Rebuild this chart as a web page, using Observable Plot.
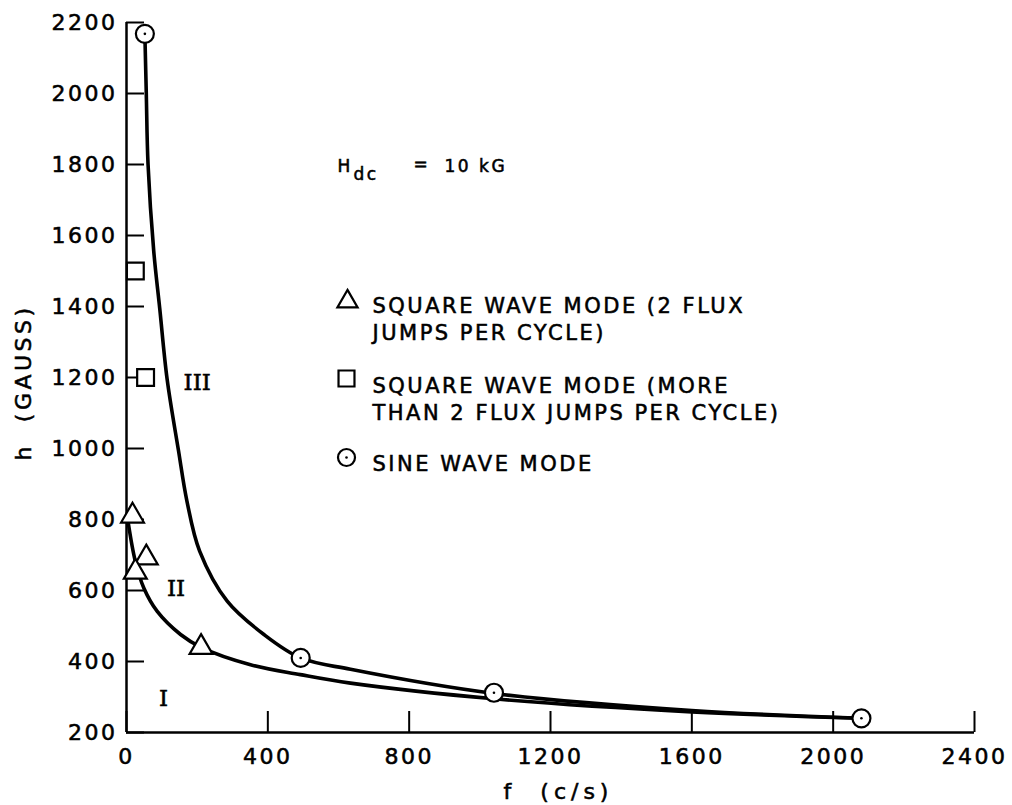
<!DOCTYPE html>
<html><head><meta charset="utf-8">
<script src="https://cdn.jsdelivr.net/npm/d3@7"></script>
<script src="https://cdn.jsdelivr.net/npm/@observablehq/plot@0.6"></script>
<style>
body{margin:0;background:#fff;}
svg text{letter-spacing:2.5px;stroke:#000;stroke-width:0.55px;}
</style></head><body><div id="chart"></div>
<script>
// ---- data ----
const xTicks = [0, 400, 800, 1200, 1600, 2000, 2400];
const yTicks = [200, 400, 600, 800, 1000, 1200, 1400, 1600, 1800, 2000, 2200];

// square wave mode, 2 flux jumps per cycle (triangles)
const triF = [17, 56, 25, 211];
const triH = [810, 692, 652, 440];
// square wave mode, more than 2 flux jumps per cycle (squares)
const sqF = [25, 54];
const sqH = [1500, 1200];
// sine wave mode (circles)
const sineF = [52, 493, 1040, 2080];
const sineH = [2168, 410, 312, 240];

// boundary II / III (upper curve)
const upperF = [52, 56, 61, 77, 94, 115, 147, 171, 207, 285, 389, 493, 634, 1040, 1600, 2080];
const upperH = [2168, 2000, 1800, 1557, 1395, 1195, 995, 852, 711, 570, 476, 410, 378, 310, 262, 240];
// boundary I / II (lower curve)
const lowerF = [5, 25, 49, 87, 153, 211, 351, 492, 634, 1040, 1600, 2080];
const lowerH = [790, 682, 607, 541, 476, 440, 391, 363, 339, 295, 258, 240];

// region labels
const regionNames = ["I", "II", "III"];
const regionF = [105, 140, 200];
const regionH = [296, 606, 1185];

const legendTexts = [
  "SQUARE WAVE MODE (2 FLUX\nJUMPS PER CYCLE)",
  "SQUARE WAVE MODE (MORE\nTHAN 2 FLUX JUMPS PER CYCLE)",
  "SINE WAVE MODE"
];
const xLabel = "f  (c/s)";
const yLabel = "h  (GAUSS)";
const hdcText = ["H", "dc", "=", "10 kG"];

// ---- build tables ----
const zip = (F, H) => F.map((f, i) => ({f, h: H[i]}));
const tri = zip(triF, triH);
const sq = zip(sqF, sqH);
const sine = zip(sineF, sineH);
const upper = zip(upperF, upperH);
const lower = zip(lowerF, lowerH);
const regions = regionNames.map((n, i) => ({n, f: regionF[i], h: regionH[i]}));

const FONT = "DejaVu Sans";
const dotStyle = {stroke: "black", fill: "white", strokeWidth: 2.2};

const plot = Plot.plot({
  width: 1012, height: 805,
  marginLeft: 126, marginRight: 38, marginTop: 22, marginBottom: 73,
  x: {domain: [0, 2400]},
  y: {domain: [200, 2200]},
  style: {fontFamily: FONT, background: "white", color: "black"},
  marks: [
    Plot.ruleX([0], {strokeWidth: 2.5}),
    Plot.ruleY([200], {strokeWidth: 2.5}),
    Plot.axisX(xTicks, {tickSize: -21, tickPadding: 37, strokeWidth: 2, fontSize: 22, label: null, tickFormat: d => String(d)}),
    Plot.axisY(yTicks, {tickSize: -18, tickPadding: 27, strokeWidth: 2, fontSize: 22, label: null, tickFormat: d => String(d)}),
    Plot.text([yLabel], {frameAnchor: "left", textAnchor: "middle", dx: -103, dy: 5, rotate: -90, fontSize: 22}),
    Plot.text([xLabel], {frameAnchor: "bottom", textAnchor: "middle", lineAnchor: "bottom", dx: 8, dy: 66, fontSize: 22}),
    Plot.line(upper, {x: "f", y: "h", curve: "catmull-rom", strokeWidth: 3.6}),
    Plot.line(lower, {x: "f", y: "h", curve: "catmull-rom", strokeWidth: 3.6}),
    Plot.dot(tri, {x: "f", y: "h", symbol: "triangle", r: 8.5, ...dotStyle}),
    Plot.dot(sq, {x: "f", y: "h", symbol: "square", r: 9.5, ...dotStyle}),
    Plot.dot(sine, {x: "f", y: "h", symbol: "circle", r: 9, ...dotStyle}),
    Plot.dot(sine, {x: "f", y: "h", r: 1.3, fill: "black"}),
    Plot.text(regions, {x: "f", y: "h", text: "n", fontSize: 23, fontFamily: "DejaVu Serif"}),
    // H_dc annotation
    Plot.text([hdcText[0]], {frameAnchor: "top-left", dx: 211, dy: 137, textAnchor: "start", fontSize: 17}),
    Plot.text([hdcText[1]], {frameAnchor: "top-left", dx: 227, dy: 145, textAnchor: "start", fontSize: 17}),
    Plot.text([hdcText[2]], {frameAnchor: "top-left", dx: 287, dy: 135, fontSize: 17}),
    Plot.text([hdcText[3]], {frameAnchor: "top-left", dx: 318, dy: 137, textAnchor: "start", fontSize: 17}),
    // legend
    Plot.dot([0], {frameAnchor: "top-left", dx: 221, dy: 279, symbol: "triangle", r: 7.5, ...dotStyle}),
    Plot.dot([0], {frameAnchor: "top-left", dx: 220, dy: 356, symbol: "square", r: 9, ...dotStyle}),
    Plot.dot([0], {frameAnchor: "top-left", dx: 220, dy: 435, symbol: "circle", r: 8.5, ...dotStyle}),
    Plot.dot([0], {frameAnchor: "top-left", dx: 220, dy: 435, r: 1.3, fill: "black"}),
    Plot.text([legendTexts[0]], {frameAnchor: "top-left", dx: 246, dy: 271, textAnchor: "start", lineAnchor: "top", lineHeight: 1.2857, fontSize: 21}),
    Plot.text([legendTexts[1]], {frameAnchor: "top-left", dx: 246, dy: 351, textAnchor: "start", lineAnchor: "top", lineHeight: 1.2857, fontSize: 21}),
    Plot.text([legendTexts[2]], {frameAnchor: "top-left", dx: 246, dy: 429, textAnchor: "start", lineAnchor: "top", lineHeight: 1.2857, fontSize: 21})
  ]
});
// per-label letter spacing tweaks
d3.select(plot).selectAll("text").each(function () {
  const t = this.textContent;
  if (/^I+$/.test(t)) this.style.letterSpacing = "0px";
  if (t === xLabel) this.style.letterSpacing = "5px";
  if (t === yLabel) this.style.letterSpacing = "3.5px";
});
document.getElementById("chart").appendChild(plot);
</script></body></html>
